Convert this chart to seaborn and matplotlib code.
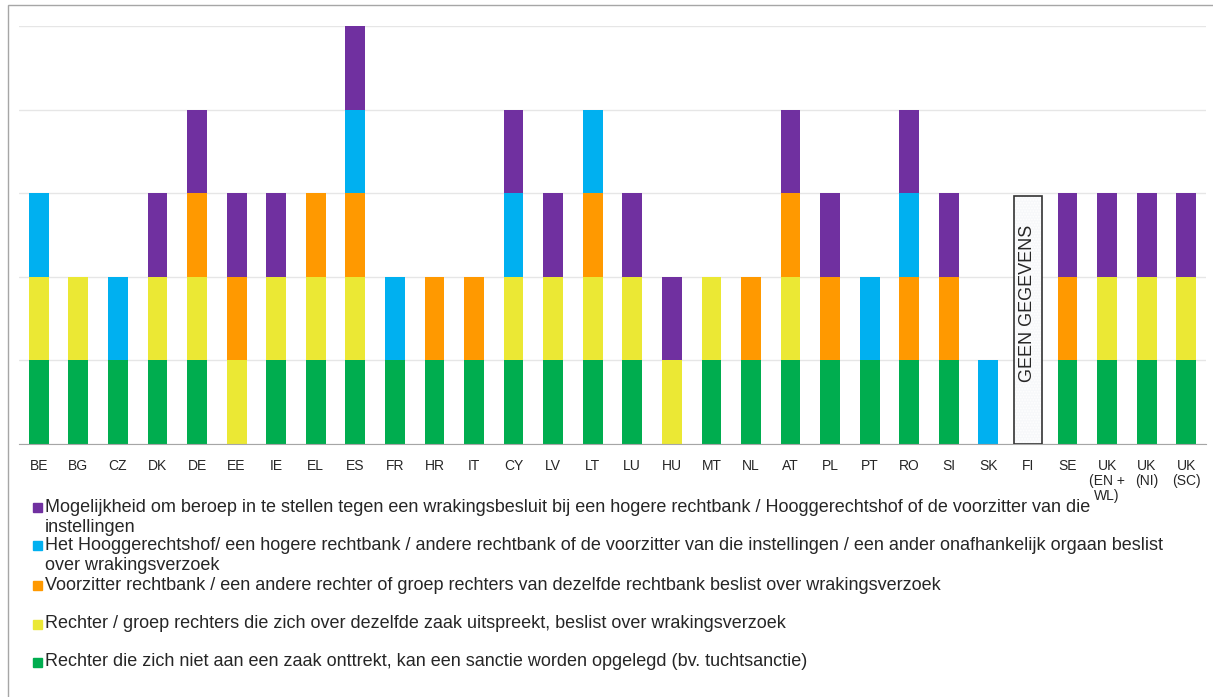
import pandas as pd
import matplotlib.pyplot as plt
import seaborn as sns
from matplotlib.patches import Rectangle

# Data: 1 = the country has this type of arrangement
countries = ["BE", "BG", "CZ", "DK", "DE", "EE", "IE", "EL", "ES", "FR", "HR", "IT",
             "CY", "LV", "LT", "LU", "HU", "MT", "NL", "AT", "PL", "PT", "RO", "SI",
             "SK", "FI", "SE", "UK\n(EN +\nWL)", "UK\n(NI)", "UK\n(SC)"]

green = [1, 1, 1, 1, 1, 0, 1, 1, 1, 1, 1, 1, 1, 1, 1, 1, 0, 1, 1, 1, 1, 1, 1, 1, 0, 0, 1, 1, 1, 1]
yellow = [1, 1, 0, 1, 1, 1, 1, 1, 1, 0, 0, 0, 1, 1, 1, 1, 1, 1, 0, 1, 0, 0, 0, 0, 0, 0, 0, 1, 1, 1]
orange = [0, 0, 0, 0, 1, 1, 0, 1, 1, 0, 1, 1, 0, 0, 1, 0, 0, 0, 1, 1, 1, 0, 1, 1, 0, 0, 1, 0, 0, 0]
blue = [1, 0, 1, 0, 0, 0, 0, 0, 1, 1, 0, 0, 1, 0, 1, 0, 0, 0, 0, 0, 0, 1, 1, 0, 1, 0, 0, 0, 0, 0]
purple = [0, 0, 0, 1, 1, 1, 1, 0, 1, 0, 0, 0, 1, 1, 0, 1, 1, 0, 0, 1, 1, 0, 1, 1, 0, 0, 1, 1, 1, 1]

labels = [
    "Mogelijkheid om beroep in te stellen tegen een wrakingsbesluit bij een hogere rechtbank / Hooggerechtshof of de voorzitter van die\ninstellingen",
    "Het Hooggerechtshof/ een hogere rechtbank / andere rechtbank of de voorzitter van die instellingen / een ander onafhankelijk orgaan beslist\nover wrakingsverzoek",
    "Voorzitter rechtbank / een andere rechter of groep rechters van dezelfde rechtbank beslist over wrakingsverzoek",
    "Rechter / groep rechters die zich over dezelfde zaak uitspreekt, beslist over wrakingsverzoek",
    "Rechter die zich niet aan een zaak onttrekt, kan een sanctie worden opgelegd (bv. tuchtsanctie)",
]
colors = ["#7030a0", "#00b0f0", "#ff9900", "#ebe834", "#00ad4f"]
series = [purple, blue, orange, yellow, green]  # top -> bottom

no_data_country = "FI"
no_data_height = 2.97
no_data_text = "GEEN GEGEVENS"

# long table for seaborn
rows = []
for lab, vals in zip(labels, series):
    for c, v in zip(countries, vals):
        rows.append({"land": c, "type": lab, "n": v})
df = pd.DataFrame(rows)
df["land"] = pd.Categorical(df["land"], categories=countries, ordered=True)

sns.set_style("white")
plt.rcParams["font.family"] = ["Liberation Sans", "DejaVu Sans"]
plt.rcParams["hatch.color"] = "#c3ccd8"
plt.rcParams["hatch.linewidth"] = 0.8

fig = plt.figure(figsize=(12.13, 6.97), dpi=100)
ax = fig.add_axes([19 / 1213, 1 - 444 / 697, 1187 / 1213, (444 - 26) / 697])

sns.histplot(data=df, x="land", hue="type", weights="n", hue_order=labels,
             palette=dict(zip(labels, colors)), multiple="stack", discrete=True,
             shrink=0.5, linewidth=0, alpha=1, legend=False, ax=ax, zorder=2)

# no data box for FI
fi = countries.index(no_data_country)
ax.bar(fi, no_data_height, width=0.73, facecolor="#f7f8fa", linewidth=0,
       hatch="......", zorder=3)
ax.bar(fi, no_data_height, width=0.73, fill=False, edgecolor="#333333",
       linewidth=1.2, zorder=3)
ax.text(fi, 1.68, no_data_text, rotation=90, ha="center", va="center",
        fontsize=13, zorder=4)

ax.set_xlim(-0.5, len(countries) - 0.5)
ax.set_ylim(0, 5)
ax.set_yticks([0, 1, 2, 3, 4, 5])
ax.set_yticklabels([])
ax.tick_params(axis="y", length=0)
ax.grid(axis="y", color="#e6e6e6", linewidth=1, zorder=0)
ax.set_axisbelow(True)
ax.set_xlabel("")
ax.set_ylabel("")

ax.set_xticks(range(len(countries)))
ax.set_xticklabels(countries, fontsize=10, linespacing=1.08, va="top")
ax.tick_params(axis="x", which="major", length=0, pad=11)
ax.set_xticks([i - 0.5 for i in range(len(countries) + 1)], minor=True)
ax.tick_params(axis="x", which="minor", length=4, color="#a6a6a6", width=1)

for s in ["top", "right", "left"]:
    ax.spines[s].set_visible(False)
ax.spines["bottom"].set_color("#a6a6a6")

# legend below the chart
W, H = 1213, 697
legend_y = [507, 545, 585, 624, 662]
for lab, col, y in zip(labels, colors, legend_y):
    fig.add_artist(Rectangle((33 / W, 1 - (y + 4.5) / H), 9 / W, 9 / H,
                             transform=fig.transFigure, color=col))
    for k, line in enumerate(lab.split("\n")):
        fig.text(45 / W, 1 - (y + 20 * k) / H, line, fontsize=13, va="center", ha="left")

# frame around the figure
fig.add_artist(Rectangle((7.5 / W, -0.1), 2, 1.1 - 5.5 / H, transform=fig.transFigure,
                         fill=False, edgecolor="#a6a6a6", linewidth=1))

fig.savefig("out.png", dpi=100)
